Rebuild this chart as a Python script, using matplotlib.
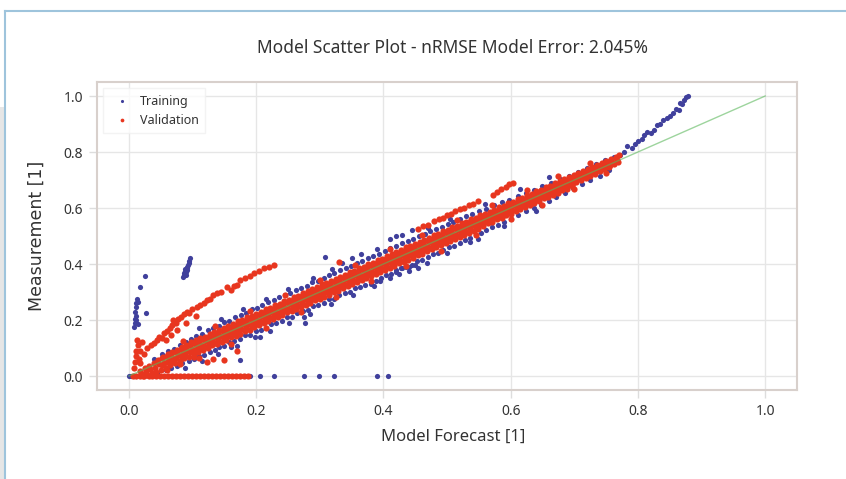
import numpy as np
import matplotlib.pyplot as plt
from matplotlib.lines import Line2D
from matplotlib.patches import Rectangle

plt.rcParams['font.family'] = ['Noto Sans', 'DejaVu Sans']

# validation: dense core of the forecast/measurement band
valid_band = [
    (0.020, 0.008), (0.022, 0.000), (0.018, 0.018), (0.027, 0.015), (0.029, 0.005), (0.025, 0.029),
    (0.034, 0.026), (0.036, 0.012), (0.032, 0.037), (0.041, 0.029), (0.043, 0.016), (0.039, 0.045),
    (0.048, 0.043), (0.050, 0.022), (0.046, 0.058), (0.056, 0.048), (0.058, 0.030), (0.054, 0.069),
    (0.063, 0.061), (0.065, 0.038), (0.061, 0.077), (0.070, 0.064), (0.072, 0.045), (0.068, 0.085),
    (0.078, 0.078), (0.080, 0.053), (0.076, 0.094), (0.085, 0.081), (0.087, 0.063), (0.083, 0.103),
    (0.092, 0.093), (0.094, 0.069), (0.090, 0.112), (0.100, 0.098), (0.102, 0.079), (0.098, 0.121),
    (0.107, 0.109), (0.109, 0.086), (0.105, 0.127), (0.114, 0.112), (0.116, 0.092), (0.112, 0.136),
    (0.122, 0.125), (0.124, 0.099), (0.120, 0.141), (0.129, 0.127), (0.131, 0.110), (0.127, 0.150),
    (0.136, 0.139), (0.138, 0.115), (0.134, 0.156), (0.144, 0.142), (0.146, 0.121), (0.142, 0.166),
    (0.151, 0.155), (0.153, 0.130), (0.149, 0.170), (0.158, 0.156), (0.160, 0.139), (0.156, 0.179),
    (0.166, 0.169), (0.168, 0.144), (0.164, 0.185), (0.173, 0.171), (0.175, 0.151), (0.171, 0.195),
    (0.180, 0.184), (0.182, 0.161), (0.178, 0.199), (0.188, 0.186), (0.190, 0.166), (0.186, 0.210),
    (0.195, 0.198), (0.197, 0.174), (0.193, 0.214), (0.202, 0.200), (0.204, 0.183), (0.200, 0.223),
    (0.210, 0.213), (0.212, 0.188), (0.208, 0.229), (0.217, 0.215), (0.219, 0.195), (0.215, 0.239),
    (0.224, 0.228), (0.226, 0.204), (0.222, 0.243), (0.232, 0.230), (0.234, 0.210), (0.230, 0.254),
    (0.239, 0.242), (0.241, 0.217), (0.237, 0.258), (0.246, 0.244), (0.248, 0.227), (0.244, 0.267),
    (0.254, 0.257), (0.256, 0.232), (0.252, 0.273), (0.261, 0.259), (0.263, 0.239), (0.259, 0.283),
    (0.268, 0.271), (0.270, 0.247), (0.266, 0.287), (0.276, 0.274), (0.278, 0.255), (0.274, 0.297),
    (0.283, 0.286), (0.285, 0.261), (0.281, 0.302), (0.290, 0.288), (0.292, 0.270), (0.288, 0.311),
    (0.298, 0.301), (0.300, 0.276), (0.296, 0.317), (0.305, 0.303), (0.307, 0.283), (0.303, 0.327),
    (0.312, 0.315), (0.314, 0.291), (0.310, 0.331), (0.320, 0.318), (0.322, 0.299), (0.318, 0.341),
    (0.327, 0.330), (0.329, 0.305), (0.325, 0.346), (0.334, 0.332), (0.336, 0.314), (0.332, 0.355),
    (0.342, 0.345), (0.344, 0.320), (0.340, 0.361), (0.349, 0.347), (0.351, 0.327), (0.347, 0.371),
    (0.356, 0.359), (0.358, 0.335), (0.354, 0.375), (0.364, 0.362), (0.366, 0.343), (0.362, 0.385),
    (0.371, 0.374), (0.373, 0.349), (0.369, 0.390), (0.378, 0.376), (0.380, 0.358), (0.376, 0.399),
    (0.386, 0.389), (0.388, 0.364), (0.384, 0.405), (0.393, 0.391), (0.395, 0.371), (0.391, 0.415),
    (0.400, 0.403), (0.402, 0.379), (0.398, 0.419), (0.408, 0.406), (0.410, 0.387), (0.406, 0.429),
    (0.415, 0.418), (0.417, 0.393), (0.413, 0.434), (0.422, 0.420), (0.424, 0.402), (0.420, 0.443),
    (0.430, 0.433), (0.432, 0.408), (0.428, 0.449), (0.437, 0.435), (0.439, 0.415), (0.435, 0.459),
    (0.444, 0.447), (0.446, 0.423), (0.442, 0.463), (0.452, 0.450), (0.454, 0.431), (0.450, 0.473),
    (0.459, 0.462), (0.461, 0.437), (0.457, 0.478), (0.466, 0.464), (0.468, 0.446), (0.464, 0.487),
    (0.474, 0.477), (0.476, 0.452), (0.472, 0.493), (0.481, 0.479), (0.483, 0.459), (0.479, 0.503),
    (0.488, 0.491), (0.490, 0.467), (0.486, 0.507), (0.496, 0.494), (0.498, 0.475), (0.494, 0.517),
    (0.503, 0.506), (0.505, 0.481), (0.501, 0.522), (0.510, 0.508), (0.512, 0.490), (0.508, 0.531),
    (0.518, 0.521), (0.520, 0.496), (0.516, 0.537), (0.525, 0.523), (0.527, 0.503), (0.523, 0.547),
    (0.532, 0.535), (0.534, 0.511), (0.530, 0.551), (0.540, 0.538), (0.542, 0.519), (0.538, 0.561),
    (0.547, 0.550), (0.549, 0.525), (0.545, 0.566), (0.554, 0.552), (0.556, 0.534), (0.552, 0.575),
    (0.562, 0.565), (0.564, 0.545), (0.560, 0.578), (0.569, 0.567), (0.571, 0.551), (0.567, 0.587),
    (0.576, 0.579), (0.578, 0.560), (0.574, 0.592), (0.584, 0.582), (0.586, 0.566), (0.582, 0.602),
    (0.591, 0.594), (0.593, 0.575), (0.589, 0.607), (0.598, 0.596), (0.600, 0.580), (0.596, 0.617),
    (0.606, 0.609), (0.608, 0.590), (0.604, 0.622), (0.613, 0.611), (0.615, 0.595), (0.611, 0.631),
    (0.620, 0.623), (0.622, 0.604), (0.618, 0.636), (0.628, 0.626), (0.630, 0.610), (0.626, 0.646),
    (0.635, 0.638), (0.637, 0.619), (0.633, 0.651), (0.642, 0.640), (0.644, 0.624), (0.640, 0.660),
    (0.650, 0.653), (0.652, 0.634), (0.648, 0.666), (0.657, 0.655), (0.659, 0.639), (0.655, 0.675),
    (0.664, 0.667), (0.666, 0.648), (0.662, 0.680), (0.672, 0.670), (0.674, 0.654), (0.670, 0.690),
    (0.679, 0.682), (0.681, 0.663), (0.677, 0.695), (0.686, 0.684), (0.688, 0.668), (0.684, 0.704),
    (0.694, 0.697), (0.696, 0.678), (0.692, 0.709), (0.701, 0.706), (0.703, 0.693), (0.699, 0.718),
    (0.708, 0.712), (0.710, 0.699), (0.706, 0.726), (0.716, 0.722), (0.718, 0.708), (0.714, 0.733),
    (0.723, 0.727), (0.725, 0.715), (0.721, 0.741), (0.730, 0.736), (0.732, 0.722), (0.728, 0.748),
    (0.738, 0.742), (0.740, 0.731), (0.736, 0.755), (0.745, 0.751), (0.747, 0.738), (0.743, 0.762),
    (0.752, 0.757), (0.754, 0.746), (0.750, 0.769), (0.760, 0.766), (0.762, 0.756), (0.758, 0.776),
    (0.767, 0.773), (0.769, 0.763), (0.765, 0.783),
]

# validation: in-between points of the band core
valid_fill = [
    (0.052, 0.063), (0.052, 0.041), (0.060, 0.071), (0.060, 0.050), (0.067, 0.080), (0.067, 0.055),
    (0.074, 0.085), (0.074, 0.064), (0.082, 0.095), (0.082, 0.070), (0.089, 0.100), (0.089, 0.079),
    (0.096, 0.109), (0.096, 0.084), (0.104, 0.115), (0.104, 0.094), (0.111, 0.124), (0.111, 0.099),
    (0.118, 0.129), (0.118, 0.108), (0.126, 0.139), (0.126, 0.114), (0.133, 0.144), (0.133, 0.123),
    (0.140, 0.153), (0.140, 0.128), (0.148, 0.159), (0.148, 0.138), (0.155, 0.168), (0.155, 0.143),
    (0.162, 0.173), (0.162, 0.152), (0.170, 0.183), (0.170, 0.158), (0.177, 0.188), (0.177, 0.167),
    (0.184, 0.197), (0.184, 0.172), (0.192, 0.203), (0.192, 0.182), (0.199, 0.212), (0.199, 0.187),
    (0.206, 0.217), (0.206, 0.196), (0.214, 0.227), (0.214, 0.202), (0.221, 0.232), (0.221, 0.211),
    (0.228, 0.241), (0.228, 0.216), (0.236, 0.247), (0.236, 0.226), (0.243, 0.256), (0.243, 0.231),
    (0.250, 0.261), (0.250, 0.240), (0.258, 0.271), (0.258, 0.246), (0.265, 0.276), (0.265, 0.255),
    (0.272, 0.285), (0.272, 0.260), (0.280, 0.291), (0.280, 0.270), (0.287, 0.300), (0.287, 0.275),
    (0.294, 0.305), (0.294, 0.284), (0.302, 0.315), (0.302, 0.290), (0.309, 0.320), (0.309, 0.299),
    (0.316, 0.329), (0.316, 0.304), (0.324, 0.335), (0.324, 0.314), (0.331, 0.344), (0.331, 0.319),
    (0.338, 0.349), (0.338, 0.328), (0.346, 0.359), (0.346, 0.334), (0.353, 0.364), (0.353, 0.343),
    (0.360, 0.373), (0.360, 0.348), (0.368, 0.379), (0.368, 0.358), (0.375, 0.388), (0.375, 0.363),
    (0.382, 0.393), (0.382, 0.372), (0.390, 0.403), (0.390, 0.378), (0.397, 0.408), (0.397, 0.387),
    (0.404, 0.417), (0.404, 0.392), (0.412, 0.423), (0.412, 0.402), (0.419, 0.432), (0.419, 0.407),
    (0.426, 0.437), (0.426, 0.416), (0.434, 0.447), (0.434, 0.422), (0.441, 0.452), (0.441, 0.431),
    (0.448, 0.461), (0.448, 0.436), (0.456, 0.467), (0.456, 0.446), (0.463, 0.476), (0.463, 0.451),
    (0.470, 0.481), (0.470, 0.460), (0.478, 0.491), (0.478, 0.466), (0.485, 0.496), (0.485, 0.475),
    (0.492, 0.505), (0.492, 0.480), (0.500, 0.511), (0.500, 0.490), (0.507, 0.520), (0.507, 0.495),
    (0.514, 0.525), (0.514, 0.504), (0.522, 0.535), (0.522, 0.510), (0.529, 0.540), (0.529, 0.519),
    (0.536, 0.549), (0.536, 0.524), (0.544, 0.555), (0.544, 0.534), (0.551, 0.564), (0.551, 0.539),
    (0.558, 0.567), (0.558, 0.550), (0.566, 0.575), (0.566, 0.557), (0.573, 0.582), (0.573, 0.565),
    (0.580, 0.589), (0.580, 0.571), (0.588, 0.597), (0.588, 0.580), (0.595, 0.604), (0.595, 0.586),
    (0.602, 0.611), (0.602, 0.594), (0.610, 0.619), (0.610, 0.601), (0.617, 0.626), (0.617, 0.609),
    (0.624, 0.633), (0.624, 0.615), (0.632, 0.641), (0.632, 0.624), (0.639, 0.648), (0.639, 0.630),
    (0.646, 0.655), (0.646, 0.638), (0.654, 0.663), (0.654, 0.645), (0.661, 0.670), (0.661, 0.653),
    (0.668, 0.677), (0.668, 0.659), (0.676, 0.685), (0.676, 0.668), (0.683, 0.692), (0.683, 0.674),
    (0.690, 0.699), (0.690, 0.682), (0.698, 0.707), (0.698, 0.689), (0.705, 0.717), (0.705, 0.703),
    (0.712, 0.724), (0.712, 0.710), (0.720, 0.732), (0.720, 0.718), (0.727, 0.739), (0.727, 0.725),
    (0.734, 0.746), (0.734, 0.732), (0.742, 0.754), (0.742, 0.740), (0.749, 0.761), (0.749, 0.747),
    (0.756, 0.768), (0.756, 0.754),
]

# validation: loose points around the band edges and above it
valid_spread = [
    (0.060, 0.020), (0.085, 0.125), (0.110, 0.065), (0.135, 0.178), (0.160, 0.115), (0.190, 0.232),
    (0.215, 0.170), (0.245, 0.288), (0.270, 0.228), (0.300, 0.342), (0.325, 0.282), (0.355, 0.398),
    (0.380, 0.338), (0.410, 0.452), (0.435, 0.392), (0.460, 0.505), (0.490, 0.448), (0.515, 0.558),
    (0.545, 0.502), (0.570, 0.612), (0.600, 0.560), (0.625, 0.665), (0.650, 0.612), (0.675, 0.715),
    (0.700, 0.668), (0.725, 0.762), (0.750, 0.725), (0.770, 0.790), (0.330, 0.407),
    (0.455, 0.525), (0.462, 0.534), (0.470, 0.541), (0.480, 0.552), (0.487, 0.561), (0.494, 0.566),
    (0.500, 0.574), (0.507, 0.580), (0.513, 0.588), (0.520, 0.596), (0.527, 0.601), (0.534, 0.609),
    (0.541, 0.616), (0.548, 0.624), (0.572, 0.648), (0.578, 0.657), (0.585, 0.668), (0.592, 0.676),
    (0.598, 0.684), (0.604, 0.690),
    (0.102, 0.068), (0.123, 0.050), (0.149, 0.057), (0.080, 0.042), (0.170, 0.090), (0.133, 0.062),
]

# validation: upper branch starting near the origin
valid_branch = [
    (0.008, 0.030), (0.010, 0.050), (0.012, 0.070), (0.011, 0.090), (0.014, 0.110), (0.013, 0.130),
    (0.016, 0.060), (0.018, 0.090), (0.020, 0.120), (0.017, 0.046), (0.024, 0.080), (0.028, 0.100),
    (0.035, 0.110), (0.039, 0.118), (0.044, 0.128), (0.048, 0.140), (0.052, 0.135), (0.056, 0.152),
    (0.060, 0.160), (0.064, 0.170), (0.068, 0.182), (0.070, 0.200), (0.074, 0.190), (0.078, 0.205),
    (0.082, 0.212), (0.087, 0.222), (0.091, 0.230), (0.095, 0.226), (0.100, 0.240), (0.107, 0.247),
    (0.112, 0.255), (0.118, 0.262), (0.123, 0.270), (0.128, 0.276), (0.133, 0.288), (0.138, 0.296),
    (0.145, 0.300), (0.154, 0.318), (0.160, 0.307), (0.165, 0.322), (0.170, 0.325), (0.175, 0.343),
    (0.182, 0.350), (0.190, 0.358), (0.197, 0.368), (0.204, 0.376), (0.212, 0.386), (0.220, 0.390),
    (0.228, 0.396), (0.058, 0.128), (0.066, 0.145), (0.076, 0.165), (0.090, 0.190), (0.105, 0.215),
]

# validation: zero measurements
valid_zero_x = [0.006, 0.012, 0.018, 0.024, 0.031, 0.037, 0.043, 0.049, 0.056, 0.062,
                0.068, 0.074, 0.081, 0.087, 0.093, 0.099, 0.106, 0.112, 0.118, 0.124,
                0.131, 0.137, 0.143, 0.149, 0.156, 0.162, 0.168, 0.174, 0.181, 0.187]

# training: edges of the band (inside is covered by validation)
train_band = [
    (0.045, 0.012), (0.058, 0.020), (0.066, 0.030), (0.075, 0.036), (0.083, 0.045), (0.094, 0.052),
    (0.102, 0.060), (0.110, 0.072), (0.118, 0.075), (0.127, 0.086), (0.135, 0.093), (0.142, 0.104),
    (0.150, 0.108), (0.158, 0.120), (0.166, 0.124), (0.175, 0.133), (0.183, 0.145), (0.191, 0.148),
    (0.200, 0.160), (0.208, 0.166), (0.216, 0.172), (0.224, 0.185), (0.232, 0.189), (0.240, 0.198),
    (0.249, 0.210), (0.257, 0.212), (0.265, 0.224), (0.273, 0.231), (0.281, 0.236), (0.290, 0.249),
    (0.298, 0.254), (0.306, 0.262), (0.314, 0.274), (0.322, 0.276), (0.330, 0.288), (0.339, 0.295),
    (0.347, 0.300), (0.355, 0.313), (0.363, 0.318), (0.371, 0.325), (0.380, 0.337), (0.388, 0.341),
    (0.396, 0.350), (0.404, 0.362), (0.412, 0.366), (0.420, 0.372), (0.428, 0.385), (0.436, 0.390),
    (0.445, 0.398), (0.453, 0.410), (0.461, 0.414), (0.470, 0.424), (0.478, 0.436), (0.486, 0.440),
    (0.494, 0.450), (0.503, 0.461), (0.511, 0.466), (0.520, 0.476), (0.528, 0.487), (0.536, 0.492),
    (0.545, 0.503), (0.553, 0.512), (0.562, 0.520), (0.571, 0.531), (0.580, 0.540), (0.590, 0.551),
    (0.600, 0.562), (0.612, 0.574), (0.624, 0.588), (0.636, 0.600), (0.648, 0.612), (0.660, 0.626),
    (0.672, 0.640), (0.685, 0.652), (0.698, 0.670), (0.712, 0.684), (0.725, 0.700), (0.740, 0.716),
    (0.755, 0.735),
    (0.040, 0.062), (0.052, 0.078), (0.062, 0.090), (0.071, 0.098), (0.080, 0.112), (0.090, 0.122),
    (0.098, 0.131), (0.106, 0.142), (0.115, 0.150), (0.124, 0.163), (0.132, 0.170), (0.141, 0.180),
    (0.150, 0.192), (0.158, 0.198), (0.167, 0.210), (0.176, 0.218), (0.184, 0.226), (0.193, 0.238),
    (0.202, 0.244), (0.210, 0.254), (0.219, 0.264), (0.228, 0.270), (0.236, 0.281), (0.245, 0.290),
    (0.254, 0.297), (0.262, 0.307), (0.271, 0.316), (0.280, 0.323), (0.288, 0.334), (0.297, 0.341),
    (0.306, 0.350), (0.314, 0.360), (0.323, 0.367), (0.332, 0.377), (0.341, 0.386), (0.349, 0.393),
    (0.358, 0.404), (0.367, 0.411), (0.376, 0.420), (0.384, 0.430), (0.393, 0.437), (0.402, 0.447),
    (0.411, 0.456), (0.420, 0.463), (0.429, 0.474), (0.438, 0.481), (0.447, 0.490), (0.456, 0.500),
    (0.465, 0.507), (0.474, 0.517), (0.483, 0.526), (0.492, 0.533), (0.501, 0.543), (0.510, 0.551),
    (0.520, 0.560), (0.530, 0.570), (0.540, 0.578), (0.551, 0.589), (0.562, 0.598), (0.574, 0.609),
    (0.586, 0.620), (0.598, 0.630), (0.611, 0.642), (0.624, 0.654), (0.637, 0.665), (0.650, 0.678),
    (0.664, 0.690), (0.678, 0.703), (0.692, 0.716), (0.706, 0.730), (0.720, 0.744), (0.734, 0.757),
    (0.748, 0.770), (0.762, 0.783),
    (0.410, 0.490), (0.420, 0.500), (0.430, 0.505), (0.445, 0.520), (0.420, 0.380), (0.430, 0.385),
    (0.440, 0.390), (0.450, 0.395), (0.536, 0.480), (0.380, 0.330), (0.395, 0.340), (0.410, 0.350),
    (0.425, 0.365), (0.440, 0.375), (0.455, 0.385), (0.335, 0.405), (0.350, 0.420), (0.365, 0.435),
    (0.275, 0.210), (0.277, 0.190), (0.206, 0.140), (0.175, 0.057), (0.160, 0.104), (0.308, 0.425),
    (0.088, 0.030), (0.115, 0.052), (0.140, 0.080), (0.170, 0.108), (0.198, 0.138), (0.222, 0.160),
    (0.252, 0.190), (0.285, 0.222), (0.318, 0.256), (0.352, 0.290), (0.385, 0.322), (0.468, 0.405),
    (0.500, 0.440), (0.548, 0.490), (0.590, 0.535), (0.640, 0.588),
    (0.110, 0.170), (0.145, 0.205), (0.180, 0.240), (0.215, 0.275), (0.250, 0.310), (0.290, 0.350),
    (0.320, 0.382), (0.390, 0.452), (0.470, 0.530), (0.505, 0.562), (0.560, 0.615), (0.615, 0.668),
    (0.660, 0.712),
]

# training: high end where measurements run above the forecast
train_tail = [
    (0.772, 0.790), (0.778, 0.800), (0.783, 0.820), (0.790, 0.815), (0.795, 0.830), (0.800, 0.840),
    (0.806, 0.845), (0.810, 0.860), (0.815, 0.870), (0.820, 0.868), (0.826, 0.880), (0.830, 0.895),
    (0.835, 0.900), (0.840, 0.915), (0.845, 0.920), (0.850, 0.930), (0.855, 0.940), (0.860, 0.955),
    (0.865, 0.950), (0.866, 0.975), (0.870, 0.970), (0.872, 0.985), (0.876, 0.995), (0.878, 1.000),
]

# training: isolated groups at low forecast
train_groups = [
    (0.085, 0.352), (0.087, 0.360), (0.086, 0.368), (0.088, 0.375), (0.090, 0.370), (0.089, 0.382),
    (0.091, 0.390), (0.092, 0.386), (0.093, 0.398), (0.094, 0.405), (0.095, 0.412), (0.096, 0.420),
    (0.092, 0.378), (0.090, 0.362),
    (0.008, 0.175), (0.010, 0.190), (0.009, 0.205), (0.011, 0.215), (0.010, 0.230), (0.012, 0.245),
    (0.011, 0.260), (0.013, 0.275), (0.012, 0.200), (0.014, 0.185), (0.018, 0.318), (0.025, 0.357),
    (0.027, 0.225), (0.015, 0.265),
]

# training: zero measurements
train_zero_x = [0.000, 0.004, 0.008, 0.012, 0.175, 0.183, 0.190, 0.206, 0.228,
                0.275, 0.299, 0.322, 0.390, 0.407]

ideal = [0.0, 1.0]

tb = np.array(train_band + train_tail + train_groups)
tx = np.concatenate([tb[:, 0], train_zero_x])
ty = np.concatenate([tb[:, 1], np.zeros(len(train_zero_x))])

vb = np.array(valid_band + valid_fill + valid_spread + valid_branch)
vx = np.concatenate([vb[:, 0], valid_zero_x])
vy = np.concatenate([vb[:, 1], np.zeros(len(valid_zero_x))])

fig = plt.figure(figsize=(8.46, 4.79), dpi=100)

# page frame around the chart
fig.add_artist(Rectangle((0, 0), 4 / 846, 1 - 107 / 479, transform=fig.transFigure,
                         facecolor='#e6e6e6', edgecolor='none'))
fig.add_artist(Line2D([5 / 846, 5 / 846], [0, 1 - 11 / 479], transform=fig.transFigure,
                      color='#9ec4dc', lw=1.5))
fig.add_artist(Line2D([5 / 846, 1], [1 - 11 / 479, 1 - 11 / 479], transform=fig.transFigure,
                      color='#9ec4dc', lw=1.5))

ax = fig.add_axes([97 / 846, 1 - 390 / 479, 700 / 846, 308 / 479])
ax.scatter(tx, ty, s=14, c='#40409c', linewidths=0, label='Training')
ax.scatter(vx, vy, s=20, c='#e8361f', linewidths=0, label='Validation')
ax.plot(ideal, ideal, color='#5cb85c', lw=1, alpha=0.6)

ax.set_xlim(-0.05, 1.05)
ax.set_ylim(-0.05, 1.05)
ax.set_xticks([0, 0.2, 0.4, 0.6, 0.8, 1.0])
ax.set_yticks([0, 0.2, 0.4, 0.6, 0.8, 1.0])
ax.grid(True, color='#e6e6e6', lw=1)
ax.set_axisbelow(True)
for s in ax.spines.values():
    s.set_color('#d8d0cc')
    s.set_linewidth(1.5)
ax.tick_params(colors='#dddddd', labelcolor='#333333', labelsize=10, length=6, width=1, pad=4)

leg = ax.legend(loc='upper left', fontsize=9, markerscale=0.6, handletextpad=0.4,
                borderpad=0.5, frameon=True, fancybox=False)
leg.get_frame().set_edgecolor('#f0f0f0')
for t in leg.get_texts():
    t.set_color('#333333')

fig.text(452 / 846, 1 - 48 / 479, 'Model Scatter Plot - nRMSE Model Error: 2.045%',
         ha='center', va='center', fontsize=12.5, color='#333333')
fig.text(453 / 846, 1 - 437 / 479, 'Model Forecast [1]', ha='center', va='center',
         fontsize=12, color='#333333')
fig.text(37 / 846, 1 - 236 / 479, 'Measurement [1]', ha='center', va='center',
         rotation=90, fontsize=12.5, color='#333333', family=['DejaVu Sans'])

fig.savefig('out.png', dpi=100)
